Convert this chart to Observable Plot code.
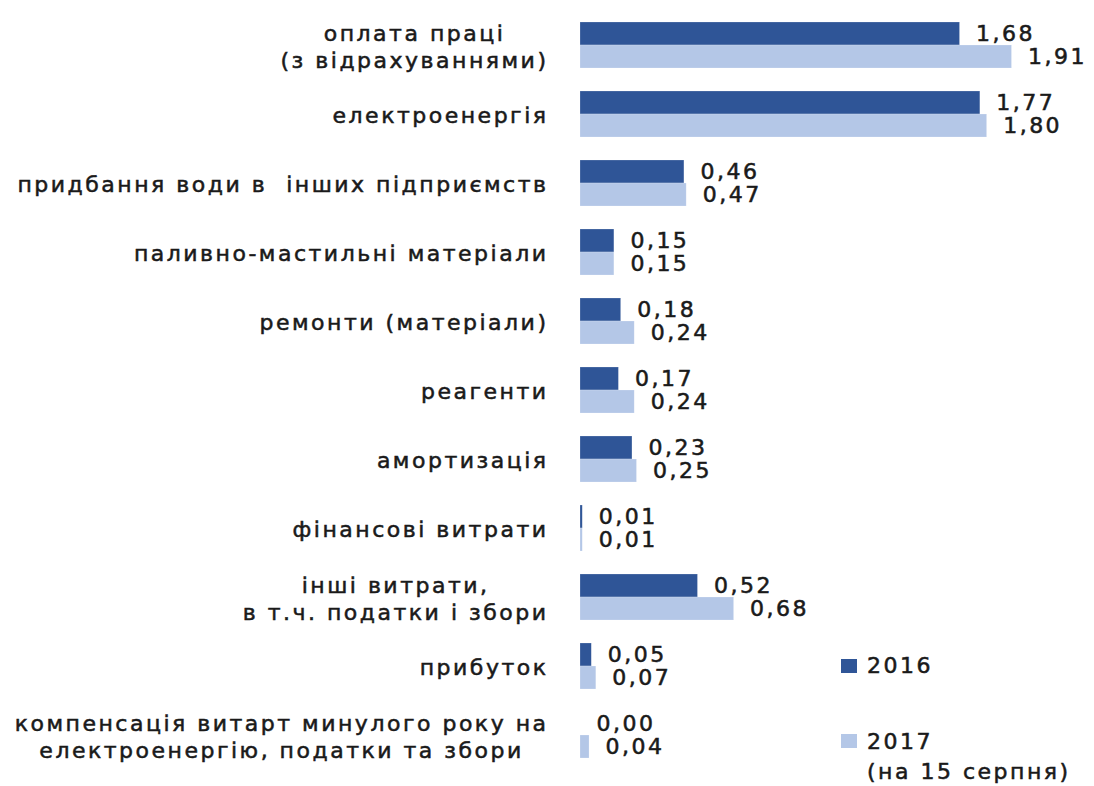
<!DOCTYPE html>
<html>
<head>
<meta charset="utf-8">
<script src="https://cdn.jsdelivr.net/npm/d3@7"></script>
<script src="https://cdn.jsdelivr.net/npm/@observablehq/plot@0.6"></script>
<style>
  html, body { margin: 0; padding: 0; background: #fff; }
  #wrap { position: relative; width: 1094px; height: 786px; font-family: "DejaVu Sans", sans-serif; }
  #wrap svg text { stroke: #1a1a1a; stroke-width: 0.55px; }
  .leg { position: absolute; font-size: 22px; letter-spacing: 2.5px; color: #1a1a1a; line-height: 1; -webkit-text-stroke: 0.55px #1a1a1a; white-space: nowrap; }
  .sw { position: absolute; width: 16px; height: 14px; }
</style>
</head>
<body>
<div id="wrap"></div>
<script>
const categories = [
  "оплата праці\n(з відрахуваннями)",
  "електроенергія",
  "придбання води в  інших підприємств",
  "паливно-мастильні матеріали",
  "ремонти (матеріали)",
  "реагенти",
  "амортизація",
  "фінансові витрати",
  "інші витрати,\nв т.ч. податки і збори",
  "прибуток",
  "компенсація витарт минулого року на\nелектроенергію, податки та збори"
];
const years = ["2016", "2017"];
const values2016 = [1.68, 1.77, 0.46, 0.15, 0.18, 0.17, 0.23, 0.01, 0.52, 0.05, 0.00];
const values2017 = [1.91, 1.80, 0.47, 0.15, 0.24, 0.24, 0.25, 0.01, 0.68, 0.07, 0.04];
const colors = ["#2F5597", "#B4C7E7"];
const legendLabels = ["2016", "2017\n(на 15 серпня)"];

const data = [];
categories.forEach((c, i) => {
  data.push({category: c, year: years[0], value: values2016[i]});
  data.push({category: c, year: years[1], value: values2017[i]});
});

const fmt = v => d3.format(".2f")(v).replace(".", ",");

const chart = Plot.plot({
  width: 1094,
  height: 786,
  marginLeft: 580,
  marginRight: 17,
  marginTop: 18,
  marginBottom: 24,
  style: {fontFamily: "DejaVu Sans, sans-serif", fontSize: "22px", letterSpacing: "2.5px", color: "#1a1a1a", background: "white"},
  x: {domain: [0, 2.2], axis: null},
  y: {domain: years, axis: null, padding: 0},
  fy: {domain: categories, paddingInner: 0.34, paddingOuter: 0, label: null},
  color: {domain: years, range: colors},
  marks: [
    Plot.barX(data, {x: "value", y: "year", fy: "category", fill: "year", stroke: "white", strokeOpacity: 0.35, strokeWidth: 0.6}),
    Plot.text(data, {x: "value", y: "year", fy: "category", text: d => fmt(d.value), textAnchor: "start", dx: 16, fontSize: 22, fill: "#1a1a1a"}),
    Plot.axisFy({anchor: "left", tickSize: 0, tickPadding: 32, fontSize: 22, lineHeight: 1.23, label: null, fill: "#1a1a1a"})
  ]
});

const wrap = document.getElementById("wrap");
wrap.appendChild(chart);

// centre the lines of multi-line category labels on their widest line
chart.querySelectorAll('g[aria-label="fy-axis tick label"] text').forEach(t => {
  const spans = t.querySelectorAll("tspan");
  if (spans.length > 1) {
    const w = Math.max(...Array.from(spans, s => s.getComputedTextLength()));
    t.setAttribute("text-anchor", "middle");
    const tr = t.getAttribute("transform") || "";
    t.setAttribute("transform", tr + ` translate(${-w / 2},0)`);
  }
});

// legend
const legPos = [{sx: 841, sy: 659, tx: 867, ty: 655}, {sx: 841, sy: 734, tx: 867, ty: 731}];
years.forEach((y, i) => {
  const sw = document.createElement("div");
  sw.className = "sw";
  sw.style.left = legPos[i].sx + "px";
  sw.style.top = legPos[i].sy + "px";
  sw.style.background = colors[i];
  wrap.appendChild(sw);
  const lines = legendLabels[i].split("\n");
  lines.forEach((line, j) => {
    const d = document.createElement("div");
    d.className = "leg";
    d.textContent = line;
    d.style.left = legPos[i].tx + "px";
    d.style.top = (legPos[i].ty + j * 30) + "px";
    wrap.appendChild(d);
  });
});
</script>
</body>
</html>
